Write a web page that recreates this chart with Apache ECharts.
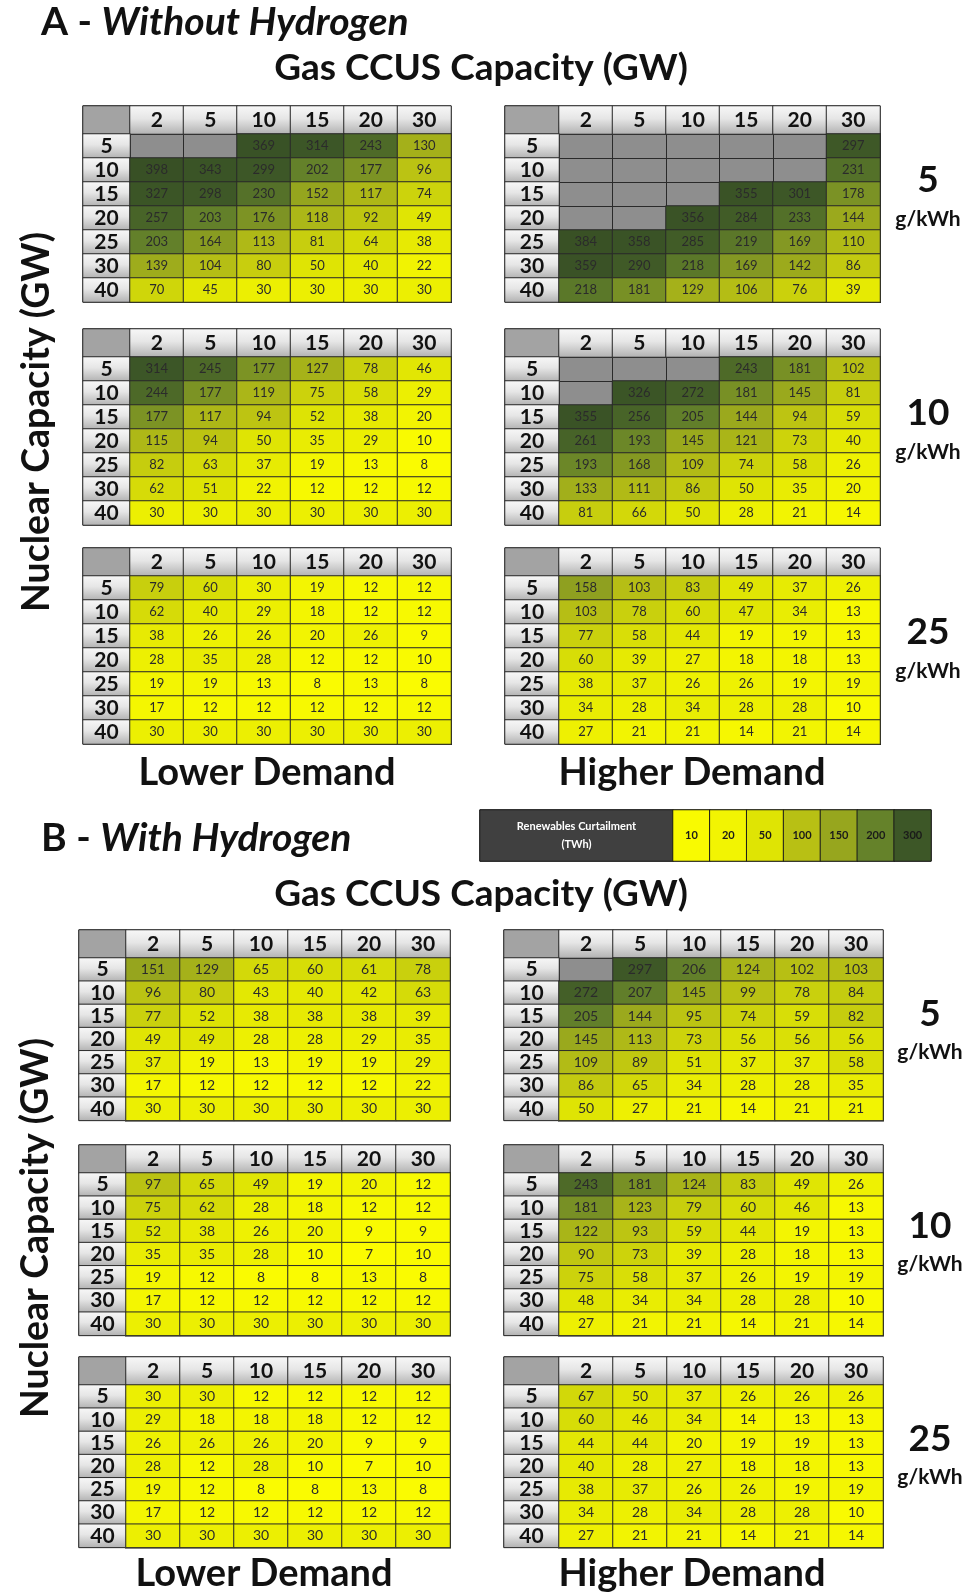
<!DOCTYPE html>
<html>
<head>
<meta charset="utf-8">
<script src="https://cdn.jsdelivr.net/npm/echarts@6/dist/echarts.min.js"></script>
<style>
  html, body { margin: 0; padding: 0; background: #fff; }
  #chart { width: 966px; height: 1595px; }
</style>
</head>
<body>
<div id="chart"></div>
<script>
// axes of every table
const gasCCUS = ['2', '5', '10', '15', '20', '30'];
const nuclear = ['5', '10', '15', '20', '25', '30', '40'];
const intensities = ['5', '10', '25'];
const legendSteps = [10, 20, 50, 100, 150, 200, 300];

// renewables curtailment (TWh), rows = nuclear, cols = gas CCUS; null = infeasible (grey)
const N = null;
const noH2Low5 = [
  [N, N, 369, 314, 243, 130],
  [398, 343, 299, 202, 177, 96],
  [327, 298, 230, 152, 117, 74],
  [257, 203, 176, 118, 92, 49],
  [203, 164, 113, 81, 64, 38],
  [139, 104, 80, 50, 40, 22],
  [70, 45, 30, 30, 30, 30]
];
const noH2High5 = [
  [N, N, N, N, N, 297],
  [N, N, N, N, N, 231],
  [N, N, N, 355, 301, 178],
  [N, N, 356, 284, 233, 144],
  [384, 358, 285, 219, 169, 110],
  [359, 290, 218, 169, 142, 86],
  [218, 181, 129, 106, 76, 39]
];
const noH2Low10 = [
  [314, 245, 177, 127, 78, 46],
  [244, 177, 119, 75, 58, 29],
  [177, 117, 94, 52, 38, 20],
  [115, 94, 50, 35, 29, 10],
  [82, 63, 37, 19, 13, 8],
  [62, 51, 22, 12, 12, 12],
  [30, 30, 30, 30, 30, 30]
];
const noH2High10 = [
  [N, N, N, 243, 181, 102],
  [N, 326, 272, 181, 145, 81],
  [355, 256, 205, 144, 94, 59],
  [261, 193, 145, 121, 73, 40],
  [193, 168, 109, 74, 58, 26],
  [133, 111, 86, 50, 35, 20],
  [81, 66, 50, 28, 21, 14]
];
const noH2Low25 = [
  [79, 60, 30, 19, 12, 12],
  [62, 40, 29, 18, 12, 12],
  [38, 26, 26, 20, 26, 9],
  [28, 35, 28, 12, 12, 10],
  [19, 19, 13, 8, 13, 8],
  [17, 12, 12, 12, 12, 12],
  [30, 30, 30, 30, 30, 30]
];
const noH2High25 = [
  [158, 103, 83, 49, 37, 26],
  [103, 78, 60, 47, 34, 13],
  [77, 58, 44, 19, 19, 13],
  [60, 39, 27, 18, 18, 13],
  [38, 37, 26, 26, 19, 19],
  [34, 28, 34, 28, 28, 10],
  [27, 21, 21, 14, 21, 14]
];
const h2Low5 = [
  [151, 129, 65, 60, 61, 78],
  [96, 80, 43, 40, 42, 63],
  [77, 52, 38, 38, 38, 39],
  [49, 49, 28, 28, 29, 35],
  [37, 19, 13, 19, 19, 29],
  [17, 12, 12, 12, 12, 22],
  [30, 30, 30, 30, 30, 30]
];
const h2High5 = [
  [N, 297, 206, 124, 102, 103],
  [272, 207, 145, 99, 78, 84],
  [205, 144, 95, 74, 59, 82],
  [145, 113, 73, 56, 56, 56],
  [109, 89, 51, 37, 37, 58],
  [86, 65, 34, 28, 28, 35],
  [50, 27, 21, 14, 21, 21]
];
const h2Low10 = [
  [97, 65, 49, 19, 20, 12],
  [75, 62, 28, 18, 12, 12],
  [52, 38, 26, 20, 9, 9],
  [35, 35, 28, 10, 7, 10],
  [19, 12, 8, 8, 13, 8],
  [17, 12, 12, 12, 12, 12],
  [30, 30, 30, 30, 30, 30]
];
const h2High10 = [
  [243, 181, 124, 83, 49, 26],
  [181, 123, 79, 60, 46, 13],
  [122, 93, 59, 44, 19, 13],
  [90, 73, 39, 28, 18, 13],
  [75, 58, 37, 26, 19, 19],
  [48, 34, 34, 28, 28, 10],
  [27, 21, 21, 14, 21, 14]
];
const h2Low25 = [
  [30, 30, 12, 12, 12, 12],
  [29, 18, 18, 18, 12, 12],
  [26, 26, 26, 20, 9, 9],
  [28, 12, 28, 10, 7, 10],
  [19, 12, 8, 8, 13, 8],
  [17, 12, 12, 12, 12, 12],
  [30, 30, 30, 30, 30, 30]
];
const h2High25 = [
  [67, 50, 37, 26, 26, 26],
  [60, 46, 34, 14, 13, 13],
  [44, 44, 20, 19, 19, 13],
  [40, 28, 27, 18, 18, 13],
  [38, 37, 26, 26, 19, 19],
  [34, 28, 34, 28, 28, 10],
  [27, 21, 21, 14, 21, 14]
];

const FONT = 'Lato, "Open Sans", sans-serif';
const chart = echarts.init(document.getElementById('chart'));

const grids = [];
const xAxes = [];
const yAxes = [];
const series = [];
const colourSeries = []; // series coloured by the visualMap

const headGrad = new echarts.graphic.LinearGradient(0, 0, 0, 1, [
  { offset: 0, color: '#f8f8f8' },
  { offset: 0.45, color: '#e6e6e6' },
  { offset: 1, color: '#b0b0b0' }
]);

function addGrid(left, top, width, height, xCats, yCats, opts) {
  const i = grids.length;
  grids.push({
    left, top, width, height,
    show: true,
    backgroundColor: opts.bg || 'transparent',
    borderColor: '#1a1a1a',
    borderWidth: opts.border || 0
  });
  const axisCommon = {
    type: 'category',
    gridIndex: i,
    axisLine: { show: false },
    axisTick: { show: false },
    axisLabel: { show: false },
    splitLine: { show: !!opts.lines, interval: 0, lineStyle: { color: '#2a2a2a', width: 1 } }
  };
  xAxes.push({ ...axisCommon, data: xCats });
  yAxes.push({ ...axisCommon, data: yCats, inverse: true });
  return i;
}

function labelStyle(size, bold, color) {
  return {
    show: true,
    fontFamily: FONT,
    fontSize: size,
    fontWeight: bold ? 'bold' : 'normal',
    color: color
  };
}

// one table: corner, header row, label column, body
function addTable(values, x0, top, labelW, colW, headH, rowH, cellFont) {
  const bodyTop = top + headH;
  const bodyH = rowH * nuclear.length;
  const bodyW = colW * gasCCUS.length;

  let g = addGrid(x0, top, labelW, headH, [''], [''], { border: 1 });
  series.push({
    type: 'heatmap', xAxisIndex: g, yAxisIndex: g, silent: true,
    data: [[0, 0, 0]],
    itemStyle: { color: '#a3a3a3', borderColor: '#2a2a2a', borderWidth: 1 },
    label: { show: false }, emphasis: { disabled: true }
  });

  g = addGrid(x0 + labelW, top, bodyW, headH, gasCCUS, [''], { border: 1 });
  series.push({
    type: 'heatmap', xAxisIndex: g, yAxisIndex: g, silent: true,
    data: gasCCUS.map((c, i) => [i, 0, Number(c)]),
    itemStyle: { color: headGrad, borderColor: '#2a2a2a', borderWidth: 1 },
    label: { ...labelStyle(21, true, '#111111'), formatter: p => gasCCUS[p.value[0]] },
    emphasis: { disabled: true }
  });

  g = addGrid(x0, bodyTop, labelW, bodyH, [''], nuclear, { border: 1 });
  series.push({
    type: 'heatmap', xAxisIndex: g, yAxisIndex: g, silent: true,
    data: nuclear.map((n, i) => [0, i, Number(n)]),
    itemStyle: { color: headGrad, borderColor: '#2a2a2a', borderWidth: 1 },
    label: { ...labelStyle(21, true, '#111111'), formatter: p => nuclear[p.value[1]] },
    emphasis: { disabled: true }
  });

  g = addGrid(x0 + labelW, bodyTop, bodyW, bodyH, gasCCUS, nuclear, { border: 2, bg: '#8e8e8e', lines: true });
  const data = [];
  values.forEach((row, r) => row.forEach((v, c) => { if (v !== null) data.push([c, r, v]); }));
  colourSeries.push(series.length);
  series.push({
    type: 'heatmap', xAxisIndex: g, yAxisIndex: g, silent: true,
    data: data,
    itemStyle: { borderColor: '#2a2a2a', borderWidth: 1 },
    label: { ...labelStyle(cellFont, false, '#2b2b2b'), formatter: p => p.value[2] },
    emphasis: { disabled: true }
  });
}

// A - without hydrogen
const aTops = [106, 329, 548];
const aLow = [noH2Low5, noH2Low10, noH2Low25];
const aHigh = [noH2High5, noH2High10, noH2High25];
aTops.forEach((t, k) => {
  addTable(aLow[k], 83, t, 47, 53.5, 28, 24, 13);
  addTable(aHigh[k], 505, t, 54, 53.5, 28, 24, 13);
});

// B - with hydrogen
const bTops = [930, 1145, 1357];
const bLow = [h2Low5, h2Low10, h2Low25];
const bHigh = [h2High5, h2High10, h2High25];
bTops.forEach((t, k) => {
  addTable(bLow[k], 79, t, 47, 54, 28, 23.2, 14);
  addTable(bHigh[k], 504, t, 55, 54, 28, 23.2, 14);
});

// legend: label cell + colour steps
let lg = addGrid(480, 810, 193, 51, [''], [''], { border: 1 });
series.push({
  type: 'heatmap', xAxisIndex: lg, yAxisIndex: lg, silent: true,
  data: [[0, 0, 0]],
  itemStyle: { color: '#404040', borderColor: '#1a1a1a', borderWidth: 1 },
  label: {
    ...labelStyle(11, true, '#ffffff'), lineHeight: 18,
    formatter: () => 'Renewables Curtailment\n(TWh)'
  },
  emphasis: { disabled: true }
});
lg = addGrid(673, 810, 258, 51, legendSteps.map(String), [''], { border: 1 });
colourSeries.push(series.length);
series.push({
  type: 'heatmap', xAxisIndex: lg, yAxisIndex: lg, silent: true,
  data: legendSteps.map((v, i) => [i, 0, v]),
  itemStyle: { borderColor: '#1a1a1a', borderWidth: 1 },
  label: { ...labelStyle(11, true, '#1a1a1a'), formatter: p => p.value[2] },
  emphasis: { disabled: true }
});

// annotations
function txt(x, y, text, size, extra) {
  return {
    type: 'text', x, y, silent: true,
    rotation: (extra && extra.rotation) || 0,
    style: {
      text, fontFamily: FONT, fontSize: size, fontWeight: 'bold',
      fill: '#111', align: (extra && extra.align) || 'center', verticalAlign: 'middle',
      rich: extra && extra.rich
    }
  };
}
const sectionRich = {
  a: { fontFamily: FONT, fontSize: 39, fontWeight: 'bold', fill: '#111' },
  b: { fontFamily: FONT, fontSize: 39, fontWeight: 'bold', fontStyle: 'italic', fill: '#111' }
};
const graphics = [
  txt(41, 22, '{a|A - }{b|Without Hydrogen}', 39, { align: 'left', rich: sectionRich }),
  txt(41, 838, '{a|B - }{b|With Hydrogen}', 39, { align: 'left', rich: sectionRich }),
  txt(481, 68, 'Gas CCUS Capacity (GW)', 37),
  txt(481, 894, 'Gas CCUS Capacity (GW)', 37),
  txt(37, 422, 'Nuclear Capacity (GW)', 37.5, { rotation: Math.PI / 2 }),
  txt(36, 1228, 'Nuclear Capacity (GW)', 37.5, { rotation: Math.PI / 2 }),
  txt(267, 773, 'Lower Demand', 38),
  txt(692, 773, 'Higher Demand', 38),
  txt(264, 1574, 'Lower Demand', 38),
  txt(692, 1574, 'Higher Demand', 38)
];
const aLabelY = [180, 413, 632];
const bLabelY = [1014, 1226, 1439];
intensities.forEach((s, k) => {
  graphics.push(txt(928, aLabelY[k], s, 37));
  graphics.push(txt(928, aLabelY[k] + 39, 'g/kWh', 21));
  graphics.push(txt(930, bLabelY[k], s, 37));
  graphics.push(txt(930, bLabelY[k] + 38, 'g/kWh', 21));
});

chart.setOption({
  backgroundColor: '#ffffff',
  animation: false,
  grid: grids,
  xAxis: xAxes,
  yAxis: yAxes,
  visualMap: {
    type: 'continuous',
    show: false,
    seriesIndex: colourSeries,
    dimension: 2,
    min: 0,
    max: 400,
    inRange: {
      color: ['#ffff00', '#dfe404', '#b8c014', '#97a61e', '#65822a', '#4a6628', '#3d5727', '#3a5326', '#385025']
    }
  },
  graphic: graphics,
  series: series
});
</script>
</body>
</html>
